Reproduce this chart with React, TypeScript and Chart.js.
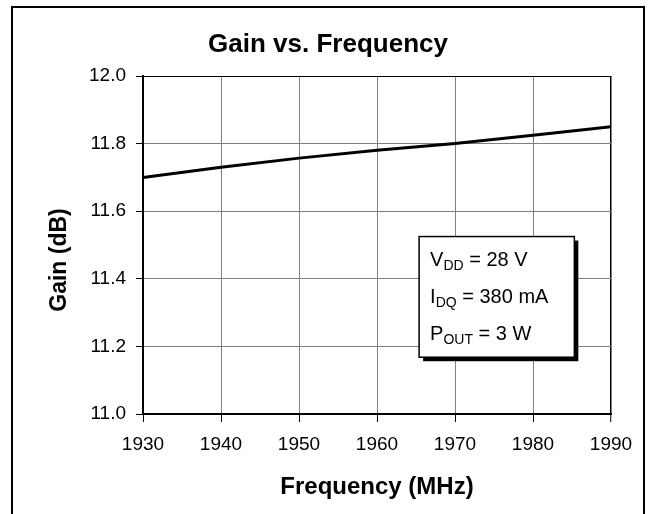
import React, { useEffect, useRef } from "react";
import { Chart, registerables } from "chart.js";

Chart.register(...registerables);

const FREQUENCIES = [1930, 1940, 1950, 1960, 1970, 1980, 1990];
const GAIN = [11.7, 11.73, 11.757, 11.78, 11.8, 11.825, 11.85];
const X_TICKS = [1930, 1940, 1950, 1960, 1970, 1980, 1990];
const Y_TICKS = [11.0, 11.2, 11.4, 11.6, 11.8, 12.0];
const TITLE = "Gain vs. Frequency";
const X_TITLE = "Frequency (MHz)";
const Y_TITLE = "Gain (dB)";
const NOTE_LINES = [
  { main: "V", sub: "DD", rest: " = 28 V" },
  { main: "I", sub: "DQ", rest: " = 380 mA" },
  { main: "P", sub: "OUT", rest: " = 3 W" },
];
// annotation box anchored in data space: [x left, x right], [y top, y bottom]
const NOTE_X = [1965.4, 1985.3];
const NOTE_Y = [11.525, 11.168];

const FONT = "'Liberation Sans', Arial, Helvetica, sans-serif";

const framePlugin = {
  id: "frame",
  beforeDraw(chart: any) {
    const ctx = chart.ctx;
    ctx.save();
    ctx.fillStyle = "#fff";
    ctx.fillRect(0, 0, chart.width, chart.height);
    ctx.strokeStyle = "#000";
    ctx.lineWidth = 2;
    ctx.strokeRect(12, 7, 632, 530);
    ctx.restore();
  },
  afterDraw(chart: any) {
    const ctx = chart.ctx;
    const ca = chart.chartArea;
    ctx.save();
    ctx.fillStyle = "#000";
    // chart title, centred in the frame
    ctx.font = `bold 26px ${FONT}`;
    ctx.textAlign = "center";
    ctx.textBaseline = "alphabetic";
    ctx.fillText(TITLE, 328, 52);
    // y axis title
    ctx.font = `bold 23px ${FONT}`;
    ctx.translate(60, (ca.top + ca.bottom) / 2 + 15);
    ctx.rotate(-Math.PI / 2);
    ctx.textBaseline = "middle";
    ctx.fillText(Y_TITLE, 0, 0);
    ctx.restore();
  },
};

const notePlugin = {
  id: "note",
  afterDatasetsDraw(chart: any) {
    const ctx = chart.ctx;
    const xs = chart.scales.x;
    const ys = chart.scales.y;
    const x0 = xs.getPixelForValue(NOTE_X[0]);
    const x1 = xs.getPixelForValue(NOTE_X[1]);
    const y0 = ys.getPixelForValue(NOTE_Y[0]);
    const y1 = ys.getPixelForValue(NOTE_Y[1]);
    ctx.save();
    ctx.fillStyle = "#000";
    ctx.fillRect(x0 + 4, y0 + 4, x1 - x0, y1 - y0);
    ctx.fillStyle = "#fff";
    ctx.fillRect(x0, y0, x1 - x0, y1 - y0);
    ctx.strokeStyle = "#000";
    ctx.lineWidth = 1.5;
    ctx.strokeRect(x0, y0, x1 - x0, y1 - y0);
    ctx.fillStyle = "#000";
    ctx.textBaseline = "alphabetic";
    ctx.textAlign = "left";
    const h = y1 - y0;
    NOTE_LINES.forEach((ln, i) => {
      const base = y0 + h * (0.24 + i * 0.31);
      let x = x0 + 11;
      ctx.font = `20px ${FONT}`;
      ctx.fillText(ln.main, x, base);
      x += ctx.measureText(ln.main).width;
      ctx.font = `14px ${FONT}`;
      ctx.fillText(ln.sub, x, base + 4);
      x += ctx.measureText(ln.sub).width;
      ctx.font = `20px ${FONT}`;
      ctx.fillText(ln.rest, x, base);
    });
    ctx.restore();
  },
};

export default function App() {
  const ref = useRef<HTMLCanvasElement | null>(null);
  useEffect(() => {
    document.body.style.margin = "0";
    if (!ref.current) return;
    const chart = new Chart(ref.current, {
      type: "line",
      data: {
        datasets: [
          {
            data: FREQUENCIES.map((f, i) => ({ x: f, y: GAIN[i] })),
            borderColor: "#000",
            borderWidth: 3,
            pointRadius: 0,
            tension: 0,
            fill: false,
          },
        ],
      },
      options: {
        responsive: false,
        animation: false,
        layout: { padding: { left: 0, right: 38, top: 76, bottom: 0 } },
        plugins: {
          legend: { display: false },
          tooltip: { enabled: false },
          title: { display: false },
        },
        scales: {
          x: {
            type: "linear",
            min: X_TICKS[0],
            max: X_TICKS[X_TICKS.length - 1],
            afterBuildTicks: (s: any) => {
              s.ticks = X_TICKS.map((v) => ({ value: v }));
            },
            afterFit: (s: any) => {
              s.height = 100;
            },
            ticks: {
              color: "#000",
              font: { family: FONT, size: 19 },
              padding: 11,
              maxRotation: 0,
              callback: (v: any) => String(v),
            },
            grid: {
              color: (c: any) => (c.tick && c.tick.value === 1990 ? "#000" : "#808080"),
              lineWidth: (c: any) => (c.tick && c.tick.value === 1990 ? 1.5 : 1),
              tickColor: "#000",
              tickLength: 8,
              tickWidth: 1,
            },
            border: { color: "#000", width: 2 },
            title: {
              display: true,
              text: X_TITLE,
              color: "#000",
              font: { family: FONT, size: 24, weight: "bold" },
              padding: { top: 0, bottom: 12 },
            },
          },
          y: {
            type: "linear",
            min: Y_TICKS[0],
            max: Y_TICKS[Y_TICKS.length - 1],
            afterBuildTicks: (s: any) => {
              s.ticks = Y_TICKS.map((v) => ({ value: v }));
            },
            afterFit: (s: any) => {
              s.width = 143;
            },
            ticks: {
              color: "#000",
              font: { family: FONT, size: 19 },
              padding: 10,
              callback: (v: any) => Number(v).toFixed(1),
            },
            grid: {
              color: (c: any) => (c.tick && Math.abs(c.tick.value - 12) < 1e-6 ? "#000" : "#808080"),
              lineWidth: 1,
              tickColor: "#000",
              tickLength: 7,
              tickWidth: 1,
            },
            border: { color: "#000", width: 2 },
            title: { display: false },
          },
        },
      },
      plugins: [framePlugin, notePlugin],
    });
    return () => chart.destroy();
  }, []);
  return <canvas ref={ref} width={649} height={514} style={{ display: "block" }} />;
}
